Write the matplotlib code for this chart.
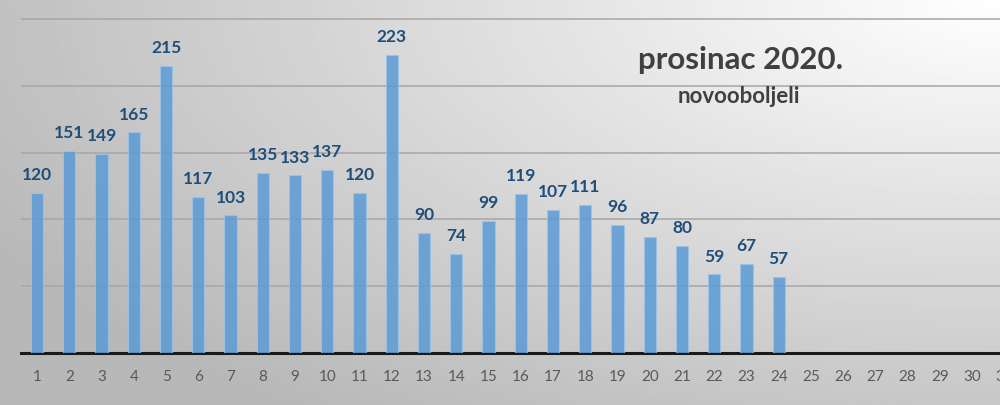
"""
Novooboljeli po danima, prosinac 2020.
"""
import numpy as np
import matplotlib.pyplot as plt

dani = [str(d) for d in range(1, 32)]
novooboljeli = [120, 151, 149, 165, 215, 117, 103, 135, 133, 137, 120, 223,
                90, 74, 99, 119, 107, 111, 96, 87, 80, 59, 67, 57]
naslov = "prosinac 2020."
podnaslov = "novooboljeli"

plt.rcParams["font.family"] = ["Lato", "DejaVu Sans"]

fig = plt.figure(figsize=(10, 4.05), dpi=100)

# pozadina s gradijentom (svijetlo gore desno, tamnije dolje lijevo)
pozadina = fig.add_axes([0, 0, 1, 1], zorder=0)
xx, yy = np.meshgrid(np.linspace(0, 1, 400), np.linspace(0, 1, 160))
udaljenost = np.sqrt(((1 - xx) * 1.0) ** 2 + (yy * 0.9) ** 2)
svjetlina = 1.0 - 0.28 * np.clip(udaljenost / 1.15, 0, 1)
pozadina.imshow(svjetlina, cmap="gray", vmin=0, vmax=1, aspect="auto",
                extent=[0, 1, 0, 1], origin="upper")
pozadina.axis("off")

ax = fig.add_axes([0.021, 0.128, 0.9995, 0.872], zorder=1)
ax.patch.set_alpha(0)

x = np.arange(len(dani))
stupci = ax.bar(x[:len(novooboljeli)], novooboljeli, width=0.38,
                color="#5b9bd5", alpha=0.85, edgecolor="#9cc3e6",
                linewidth=0.8, zorder=3)
ax.bar_label(stupci, labels=[str(v) for v in novooboljeli], padding=7,
             color="#1f4e79", fontsize=12.5, fontweight="bold")

ax.set_xlim(-0.5, len(dani) - 0.5)
ax.set_ylim(0, 264)
ax.set_yticks([50, 100, 150, 200, 250])
ax.yaxis.grid(True, color="#a6a6a6", linewidth=1.1)
ax.set_axisbelow(True)
ax.tick_params(axis="y", left=False, labelleft=False)
ax.set_xticks(x)
ax.set_xticklabels(dani, color="#595959", fontsize=11)
ax.tick_params(axis="x", length=0, pad=12)
for strana in ["top", "right", "left"]:
    ax.spines[strana].set_visible(False)
ax.spines["bottom"].set_color("#1a1a1a")
ax.spines["bottom"].set_linewidth(2.2)

fig.text(0.741, 0.852, naslov, ha="center", va="center", fontsize=22.5,
         fontweight="bold", color="#404040")
fig.text(0.739, 0.762, podnaslov, ha="center", va="center", fontsize=16,
         fontweight="bold", color="#404040")

fig.savefig("out.png", dpi=100)
